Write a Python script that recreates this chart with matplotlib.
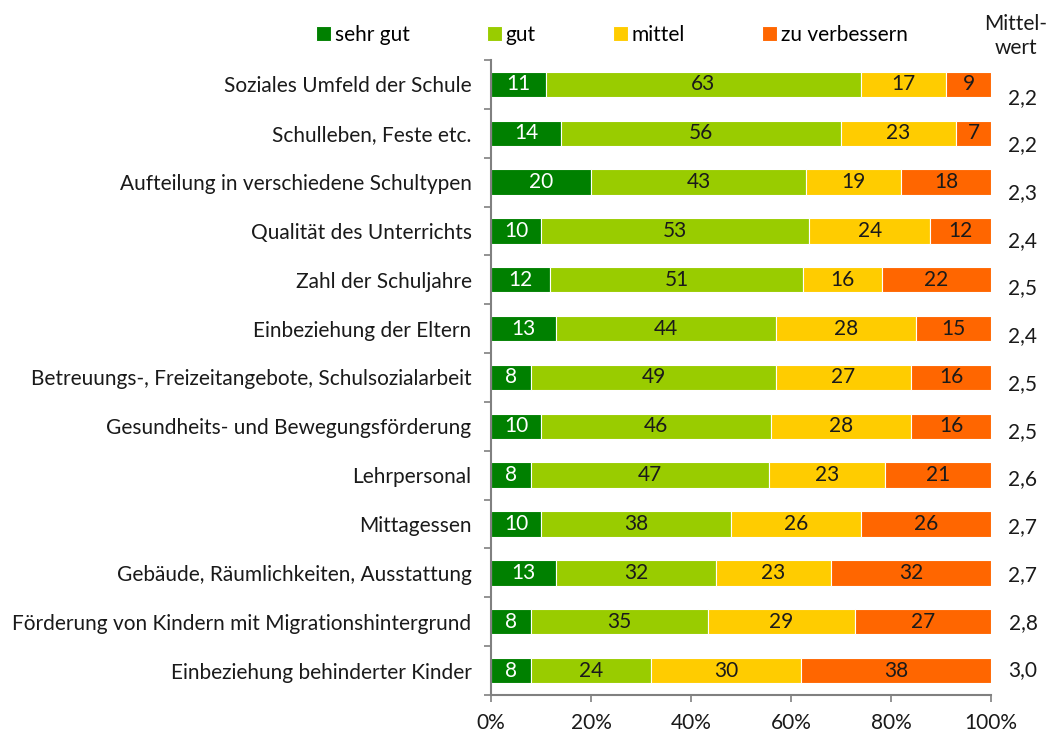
import numpy as np
import matplotlib
matplotlib.use("Agg")
import matplotlib.pyplot as plt
from matplotlib.ticker import FixedLocator, PercentFormatter

plt.rcParams['font.family'] = ['Lato', 'DejaVu Sans']

categories = [
    "Soziales Umfeld der Schule",
    "Schulleben, Feste etc.",
    "Aufteilung in verschiedene Schultypen",
    "Qualität des Unterrichts",
    "Zahl der Schuljahre",
    "Einbeziehung der Eltern",
    "Betreuungs-, Freizeitangebote, Schulsozialarbeit",
    "Gesundheits- und Bewegungsförderung",
    "Lehrpersonal",
    "Mittagessen",
    "Gebäude, Räumlichkeiten, Ausstattung",
    "Förderung von Kindern mit Migrationshintergrund",
    "Einbeziehung behinderter Kinder",
]
sehr_gut = [11, 14, 20, 10, 12, 13, 8, 10, 8, 10, 13, 8, 8]
gut = [63, 56, 43, 53, 51, 44, 49, 46, 47, 38, 32, 35, 24]
mittel = [17, 23, 19, 24, 16, 28, 27, 28, 23, 26, 23, 29, 30]
zu_verbessern = [9, 7, 18, 12, 22, 15, 16, 16, 21, 26, 32, 27, 38]
mittelwert = ["2,2", "2,2", "2,3", "2,4", "2,5", "2,4", "2,5", "2,5", "2,6", "2,7", "2,7", "2,8", "3,0"]

series = [
    ("sehr gut", sehr_gut, "#008000", "white"),
    ("gut", gut, "#99cc00", "#1a1a1a"),
    ("mittel", mittel, "#ffcc00", "#1a1a1a"),
    ("zu verbessern", zu_verbessern, "#ff6600", "#1a1a1a"),
]

data = np.array([s[1] for s in series], dtype=float)
# rounded shares don't always add up to 100, scale each row to the full bar
shares = data / data.sum(axis=0) * 100

fig = plt.figure(figsize=(10.55, 7.36), dpi=100)
ax = fig.add_axes([0.4654, 0.0557, 0.4739, 0.8628])

y = np.arange(len(categories))
left = np.zeros(len(categories))
for (name, vals, color, tcolor), share in zip(series, shares):
    ax.barh(y, share, left=left, height=0.52, color=color, edgecolor="white",
            linewidth=0.8, label=name)
    for yi, l, w, v in zip(y, left, share, vals):
        ax.text(l + w / 2, yi, str(v), ha="center", va="center",
                fontsize=15, color=tcolor)
    left += share

# the mean column sits a little lower at the top and lines up at the bottom
n = len(categories)
for yi, m in zip(y, mittelwert):
    off = 0.27 * (1 - yi / (n - 1))
    ax.text(1.064, yi + off, m, transform=ax.get_yaxis_transform(),
            ha="center", va="center", fontsize=15, color="#1a1a1a")
fig.text(0.963, 0.951, "Mittel-\nwert", ha="center", va="center",
         fontsize=15, color="#1a1a1a", linespacing=1.3)

ax.set_xlim(0, 100)
ax.set_ylim(n - 0.5, -0.5)
ax.set_yticks(y)
ax.set_yticklabels(categories, fontsize=15, color="#1a1a1a")
ax.tick_params(axis="y", length=0, pad=14)
ax.yaxis.set_minor_locator(FixedLocator(np.arange(-0.5, n, 1)))
ax.tick_params(axis="y", which="minor", length=5, color="#808080", width=1.2)
ax.set_xticks(np.arange(0, 101, 20))
ax.xaxis.set_major_formatter(PercentFormatter(decimals=0))
ax.tick_params(axis="x", length=5, color="#808080", width=1.2,
               labelsize=15, labelcolor="#1a1a1a", pad=8)

for side in ["top", "right"]:
    ax.spines[side].set_visible(False)
for side in ["left", "bottom"]:
    ax.spines[side].set_color("#808080")
    ax.spines[side].set_linewidth(1.5)

handles, labels = ax.get_legend_handles_labels()
fig.legend(handles, labels, ncol=4, loc="center left",
           bbox_to_anchor=(0.292, 0.953), frameon=False, fontsize=15,
           handlelength=0.7, handleheight=0.7, handletextpad=0.2,
           columnspacing=3.7, borderaxespad=0)

fig.savefig("out.png", dpi=100, facecolor="white")
